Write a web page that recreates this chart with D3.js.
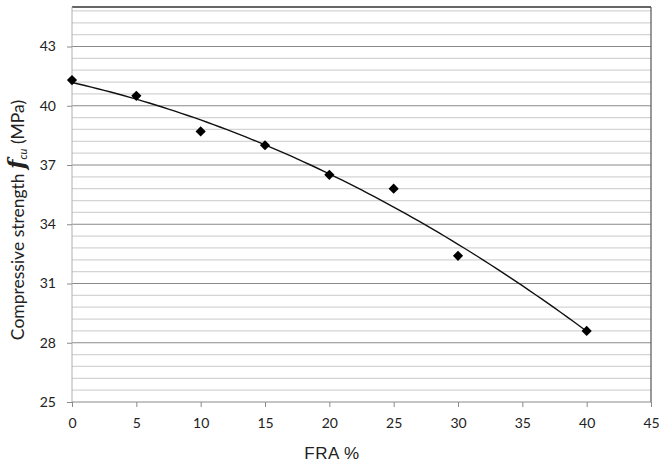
<!DOCTYPE html>
<html>
<head>
<meta charset="utf-8">
<script src="https://cdn.jsdelivr.net/npm/d3@7"></script>
<style>
  html, body { margin: 0; padding: 0; background: #fff; }
  svg { display: block; }
  .tick text { font-family: Lato, "Open Sans", sans-serif; font-size: 14px; fill: #222; }
</style>
</head>
<body>
<svg id="chart" width="659" height="467"></svg>
<script>
// FRA replacement level (%) and measured compressive strength (MPa)
const fraPercent = [0, 5, 10, 15, 20, 25, 30, 40];
const strength = [41.3, 40.5, 38.7, 38.0, 36.5, 35.8, 32.4, 28.6];

const xTicks = [0, 5, 10, 15, 20, 25, 30, 35, 40, 45];
const yTicks = [25, 28, 31, 34, 37, 40, 43];

const svg = d3.select("#chart");
const margin = { left: 72, right: 8, top: 7, bottom: 65 };
const W = 659, H = 467;

const x = d3.scaleLinear().domain([0, 45]).range([margin.left, W - margin.right]);
const y = d3.scaleLinear().domain([25, 45]).range([H - margin.bottom, margin.top]);

// minor horizontal grid every 0.6 MPa between major ticks
const minor = [];
for (let i = 0; i < yTicks.length; i++) {
  for (let k = 1; k <= 4; k++) {
    const v = yTicks[i] + k * 0.6;
    if (v < 45) minor.push(v);
  }
}

svg.append("g").selectAll("line").data(minor).join("line")
  .attr("x1", x(0)).attr("x2", x(45))
  .attr("y1", d => y(d)).attr("y2", d => y(d))
  .attr("stroke", "#d4d4d4").attr("stroke-width", 1.2);

svg.append("g").selectAll("line").data(yTicks.slice(1)).join("line")
  .attr("x1", x(0)).attr("x2", x(45))
  .attr("y1", d => y(d)).attr("y2", d => y(d))
  .attr("stroke", "#8a8a8a").attr("stroke-width", 1);

// plot frame: darker top and right edges
svg.append("line").attr("x1", x(0)).attr("x2", x(45)).attr("y1", y(45)).attr("y2", y(45))
  .attr("stroke", "#333").attr("stroke-width", 1.3);
svg.append("line").attr("x1", x(45)).attr("x2", x(45)).attr("y1", y(45)).attr("y2", y(25))
  .attr("stroke", "#555").attr("stroke-width", 1.2);

// axes
const yAxis = svg.append("g").attr("transform", `translate(${x(0)},0)`)
  .call(d3.axisLeft(y).tickValues(yTicks).tickSize(5).tickPadding(11));
yAxis.select(".domain").attr("stroke", "#b0b0b0").attr("d", `M0,${y(45)}V${y(25)}`);
yAxis.selectAll(".tick line").attr("stroke", "#8a8a8a");

const xAxis = svg.append("g").attr("transform", `translate(0,${y(25)})`)
  .call(d3.axisBottom(x).tickValues(xTicks).tickSize(5).tickPadding(11));
xAxis.select(".domain").attr("stroke", "#8a8a8a").attr("d", `M${x(0)},0H${x(45)}`);
xAxis.selectAll(".tick line").attr("stroke", "#8a8a8a");

// second-order polynomial trendline (least squares over the measurements)
function polyFit2(xs, ys) {
  const n = xs.length;
  let s = [0, 0, 0, 0, 0], t = [0, 0, 0];
  for (let i = 0; i < n; i++) {
    for (let p = 0; p <= 4; p++) s[p] += Math.pow(xs[i], p);
    for (let p = 0; p <= 2; p++) t[p] += ys[i] * Math.pow(xs[i], p);
  }
  const A = [[s[0], s[1], s[2], t[0]], [s[1], s[2], s[3], t[1]], [s[2], s[3], s[4], t[2]]];
  for (let c = 0; c < 3; c++) {
    for (let r = c + 1; r < 3; r++) {
      const f = A[r][c] / A[c][c];
      for (let k = c; k < 4; k++) A[r][k] -= f * A[c][k];
    }
  }
  const b = [0, 0, 0];
  for (let r = 2; r >= 0; r--) {
    let v = A[r][3];
    for (let k = r + 1; k < 3; k++) v -= A[r][k] * b[k];
    b[r] = v / A[r][r];
  }
  return b;
}
const coef = polyFit2(fraPercent, strength);
const trendX = d3.range(0, 40.01, 0.5);
const line = d3.line()
  .x(d => x(d))
  .y(d => y(coef[0] + coef[1] * d + coef[2] * d * d));
svg.append("path").datum(trendX).attr("d", line)
  .attr("fill", "none").attr("stroke", "#111").attr("stroke-width", 1.4);

// measured points as diamonds
svg.append("g").selectAll("path").data(fraPercent).join("path")
  .attr("d", d3.symbol(d3.symbolSquare, 52))
  .attr("transform", (d, i) => `translate(${x(d)},${y(strength[i])}) rotate(45)`)
  .attr("fill", "#000");

// axis titles
svg.append("text")
  .attr("x", 332).attr("y", 459)
  .attr("text-anchor", "middle")
  .attr("font-family", "Liberation Sans, Arial, sans-serif")
  .attr("font-size", 17).attr("fill", "#222")
  .attr("letter-spacing", 0.5)
  .text("FRA %");

const yt = svg.append("text")
  .attr("transform", `translate(24,220) rotate(-90)`)
  .attr("text-anchor", "middle")
  .attr("font-family", "Lato, Open Sans, sans-serif")
  .attr("font-size", 17.5).attr("fill", "#222");
yt.append("tspan").text("Compressive strength ");
yt.append("tspan").attr("font-family", "DejaVu Serif, Liberation Serif, serif")
  .attr("font-style", "italic").attr("font-weight", "bold").attr("font-size", 22).text("f");
yt.append("tspan").attr("font-size", 11).attr("font-style", "italic").attr("dy", 3).text("cu");
yt.append("tspan").attr("dy", -3).text(" (MPa)");
</script>
</body>
</html>
